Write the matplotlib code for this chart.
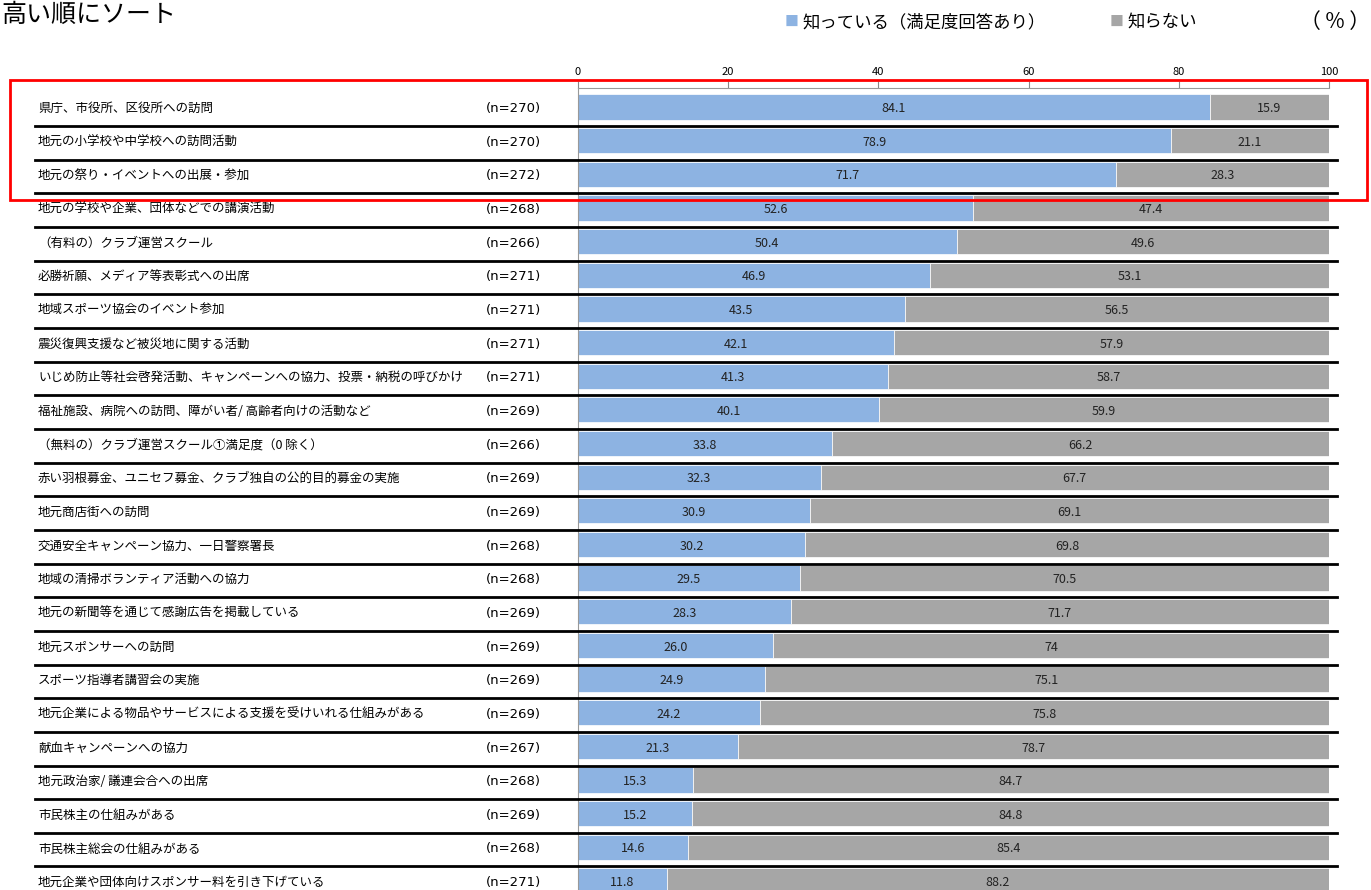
import matplotlib
matplotlib.use("Agg")
import matplotlib.pyplot as plt
from matplotlib.patches import Rectangle
from matplotlib.lines import Line2D
from matplotlib.transforms import blended_transform_factory
import numpy as np

plt.rcParams['font.family'] = ['Noto Sans CJK JP', 'DejaVu Sans']

# 項目（高い順）
items = [
    "県庁、市役所、区役所への訪問",
    "地元の小学校や中学校への訪問活動",
    "地元の祭り・イベントへの出展・参加",
    "地元の学校や企業、団体などでの講演活動",
    "（有料の）クラブ運営スクール",
    "必勝祈願、メディア等表彰式への出席",
    "地域スポーツ協会のイベント参加",
    "震災復興支援など被災地に関する活動",
    "いじめ防止等社会啓発活動、キャンペーンへの協力、投票・納税の呼びかけ",
    "福祉施設、病院への訪問、障がい者/ 高齢者向けの活動など",
    "（無料の）クラブ運営スクール①満足度（0 除く）",
    "赤い羽根募金、ユニセフ募金、クラブ独自の公的目的募金の実施",
    "地元商店街への訪問",
    "交通安全キャンペーン協力、一日警察署長",
    "地域の清掃ボランティア活動への協力",
    "地元の新聞等を通じて感謝広告を掲載している",
    "地元スポンサーへの訪問",
    "スポーツ指導者講習会の実施",
    "地元企業による物品やサービスによる支援を受けいれる仕組みがある",
    "献血キャンペーンへの協力",
    "地元政治家/ 議連会合への出席",
    "市民株主の仕組みがある",
    "市民株主総会の仕組みがある",
    "地元企業や団体向けスポンサー料を引き下げている",
]
n_resp = [270, 270, 272, 268, 266, 271, 271, 271, 271, 269, 266, 269,
          269, 268, 268, 269, 269, 269, 269, 267, 268, 269, 268, 271]
know = [84.1, 78.9, 71.7, 52.6, 50.4, 46.9, 43.5, 42.1, 41.3, 40.1, 33.8, 32.3,
        30.9, 30.2, 29.5, 28.3, 26.0, 24.9, 24.2, 21.3, 15.3, 15.2, 14.6, 11.8]
unknown = [15.9, 21.1, 28.3, 47.4, 49.6, 53.1, 56.5, 57.9, 58.7, 59.9, 66.2, 67.7,
           69.1, 69.8, 70.5, 71.7, 74.0, 75.1, 75.8, 78.7, 84.7, 84.8, 85.4, 88.2]

c_know = "#8DB3E2"
c_unk = "#A6A6A6"

W, H = 1371, 890
fig = plt.figure(figsize=(W / 100, H / 100), dpi=100)
ax = fig.add_axes([578 / W, 0, (1329 - 578) / W, 802 / H])

y = np.arange(len(items))
ax.barh(y, know, height=0.75, color=c_know, edgecolor="white", linewidth=0.5)
ax.barh(y, unknown, left=know, height=0.75, color=c_unk, edgecolor="white", linewidth=0.5)

for i in range(len(items)):
    ax.text(know[i] / 2, i + 0.05, f"{know[i]:.1f}", ha="center", va="center", fontsize=9, color="#222222")
    ax.text(know[i] + unknown[i] / 2, i + 0.05, f"{unknown[i]:g}", ha="center", va="center", fontsize=9, color="#222222")

ax.set_xlim(0, 100)
ax.set_ylim((890 - 107) / 33.65, (88 - 107) / 33.65)
ax.xaxis.tick_top()
ax.set_xticks([0, 20, 40, 60, 80, 100])
ax.tick_params(axis="x", labelsize=8, length=5, color="#888888", pad=3)
ax.set_yticks([])
for s in ["right", "bottom"]:
    ax.spines[s].set_visible(False)
ax.spines["top"].set_color("#999999")
ax.spines["left"].set_color("#999999")

# 左側のラベルと区切り線
tr = blended_transform_factory(fig.transFigure, ax.transData)
for i in range(len(items)):
    fig.text(38 / W, i + 0.05, items[i], transform=tr, ha="left", va="center", fontsize=9)
    fig.text(541 / W, i + 0.05, f"(n={n_resp[i]})", transform=tr, ha="right", va="center",
             fontsize=9.5, family="DejaVu Sans")
    fig.add_artist(Line2D([35 / W, 1337 / W], [i + 0.57, i + 0.57], transform=tr,
                          color="black", linewidth=2))

# 赤枠
fig.add_artist(Rectangle((10 / W, -0.80), (1367 - 10) / W, 3.56, transform=tr,
                         fill=False, edgecolor="red", linewidth=2))

# タイトルと凡例
fig.text(1 / W, 1 - 15 / H, "高い順にソート", ha="left", va="center", fontsize=18)
fig.text(785 / W, 1 - 22 / H, "■", color=c_know, ha="left", va="center", fontsize=10)
fig.text(802 / W, 1 - 22 / H, "知っている（満足度回答あり）", ha="left", va="center", fontsize=12.5)
fig.text(1110 / W, 1 - 22 / H, "■", color=c_unk, ha="left", va="center", fontsize=10)
fig.text(1127 / W, 1 - 22 / H, "知らない", ha="left", va="center", fontsize=12.5)
fig.text(1370 / W, 1 - 22 / H, "（ % ）", ha="right", va="center", fontsize=15)

fig.savefig("out.png", dpi=100)
